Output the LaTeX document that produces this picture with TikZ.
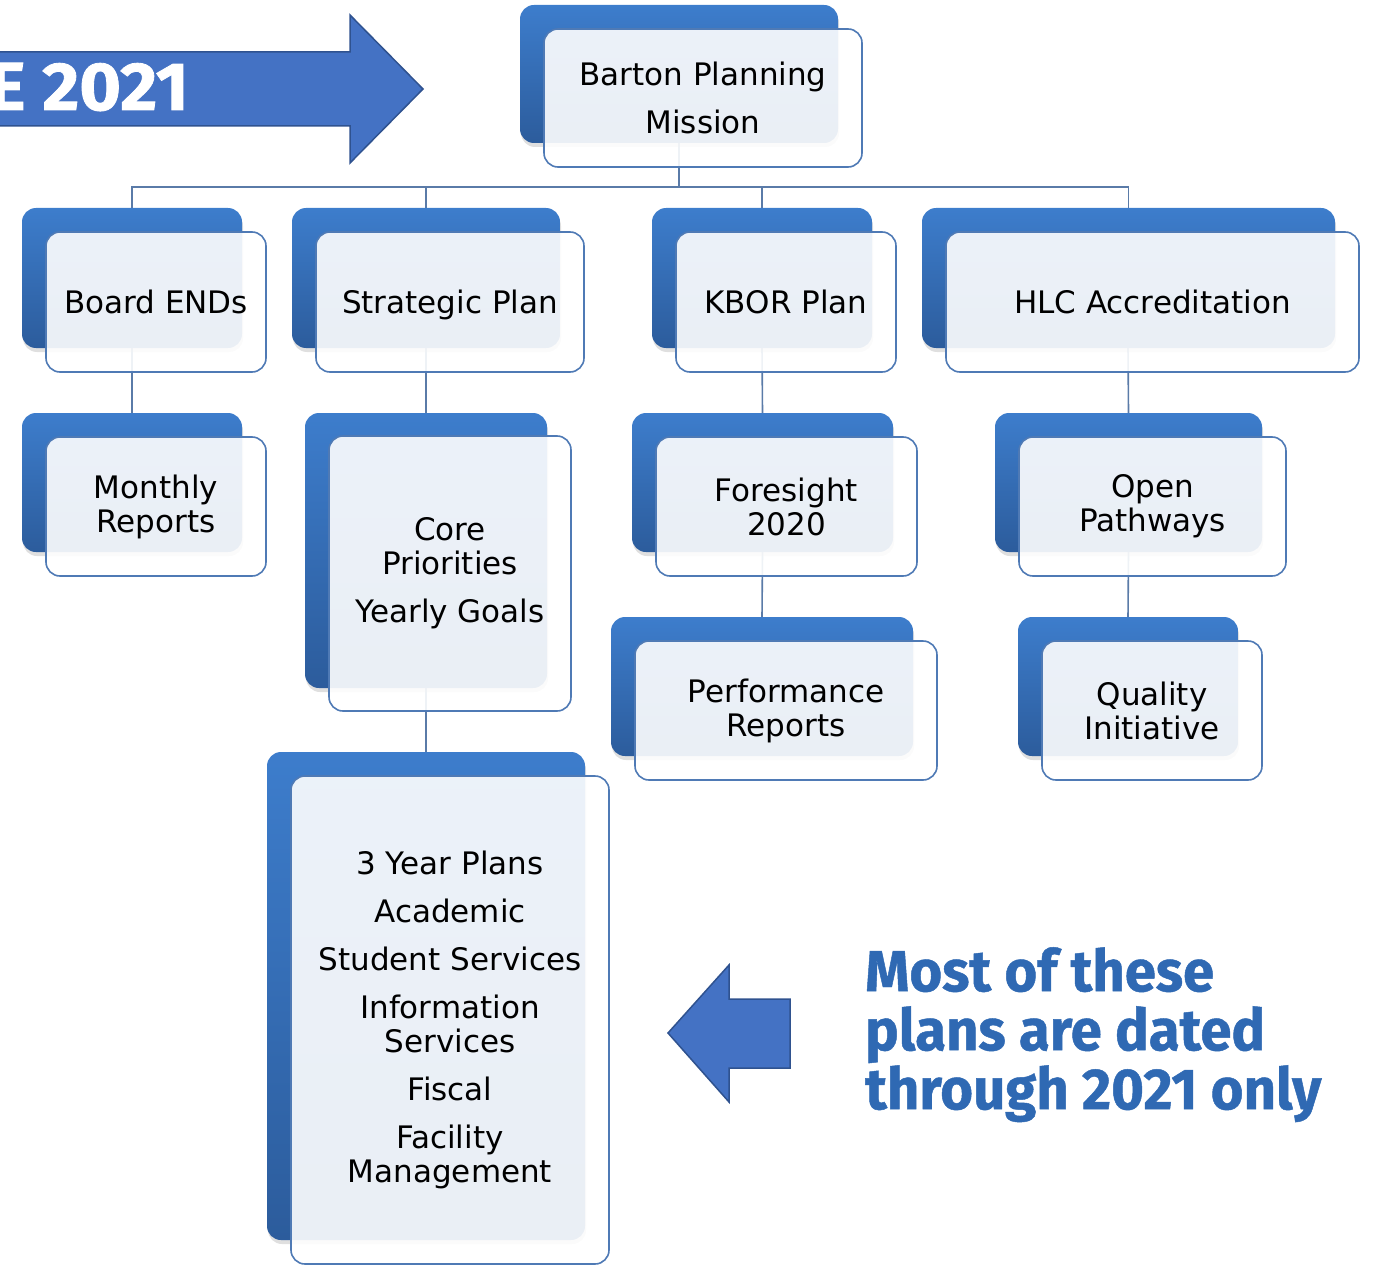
\documentclass[tikz,border=0pt]{standalone}
\usepackage{fontspec}
\setmainfont{DejaVu Sans}
\newfontfamily\notefont{Fira Sans}[FakeStretch=0.97, BoldFeatures={FakeBold=0.8}]
\newfontfamily\yearfont{Fira Sans}[FakeStretch=1.05, BoldFeatures={FakeBold=1.2}]
\usetikzlibrary{shadows,backgrounds}
\definecolor{backtop}{HTML}{3D7DCC}
\definecolor{backbot}{HTML}{2C5C9C}
\definecolor{frontline}{HTML}{4F7AB5}
\definecolor{conncol}{HTML}{5A7BA8}
\definecolor{arrowfill}{HTML}{4472C4}
\definecolor{arrowline}{HTML}{2F528F}
\definecolor{notecol}{HTML}{2F69B3}
\tikzset{
 backbox/.style={rounded corners=14pt, top color=backtop, bottom color=backbot, draw=none,
   drop shadow={opacity=0.25, shadow xshift=1pt, shadow yshift=-4pt}, inner sep=0pt},
 frontbox/.style={rounded corners=14pt, draw=frontline, line width=1.6pt, fill=white,
   fill opacity=0.9, text opacity=1, align=center, font=\fontsize{31}{34}\selectfont, inner sep=0pt},
 conn/.style={draw=conncol, line width=1.6pt},
 bigarrow/.style={fill=arrowfill, draw=arrowline, line width=1.5pt},
}
\newcommand\pgap{\\[14pt]}
\begin{document}
\begin{tikzpicture}[x=1pt,y=-1pt]
\useasboundingbox (0,0) rectangle (1375,1265);
% top arrow
\draw[bigarrow] (-5,52) -- (350,52) -- (350,15) -- (423,89) -- (350,163) -- (350,126) -- (-5,126) -- cycle;
\node[anchor=base east, text=white, font=\yearfont\bfseries\fontsize{68}{68}\selectfont, inner sep=0pt] (yr) at (189,110) {E 2021};
% back boxes
\node[backbox, minimum width=318pt, minimum height=138pt] (top) at (679,74) {};
\node[backbox, minimum width=220pt, minimum height=140pt] (be) at (132,278) {};
\node[backbox, minimum width=268pt, minimum height=140pt] (sp) at (426,278) {};
\node[backbox, minimum width=220pt, minimum height=140pt] (kb) at (762,278) {};
\node[backbox, minimum width=413pt, minimum height=140pt] (hlc) at (1128.5,278) {};
\node[backbox, minimum width=220pt, minimum height=139pt] (mr) at (132,482.5) {};
\node[backbox, minimum width=242pt, minimum height=275pt] (cp) at (426,550.5) {};
\node[backbox, minimum width=261pt, minimum height=139pt] (fs) at (762.5,482.5) {};
\node[backbox, minimum width=267pt, minimum height=139pt] (op) at (1128.5,482.5) {};
\node[backbox, minimum width=302pt, minimum height=139pt] (pr) at (762,686.5) {};
\node[backbox, minimum width=220pt, minimum height=139pt] (qi) at (1128,686.5) {};
\node[backbox, minimum width=318pt, minimum height=488pt] (ty) at (426,996) {};
% front boxes
\node[frontbox, minimum width=318pt, minimum height=138pt] (topf) at ([shift={(24,24)}]top.center) {Barton Planning\pgap Mission};
\node[frontbox, minimum width=220pt, minimum height=140pt] (bef) at ([shift={(24,24)}]be.center) {Board ENDs};
\node[frontbox, minimum width=268pt, minimum height=140pt] (spf) at ([shift={(24,24)}]sp.center) {\raisebox{0pt}[\height][0pt]{Strategic Plan}};
\node[frontbox, minimum width=220pt, minimum height=140pt] (kbf) at ([shift={(24,24)}]kb.center) {KBOR Plan};
\node[frontbox, minimum width=413pt, minimum height=140pt] (hlcf) at ([shift={(24,24)}]hlc.center) {HLC Accreditation};
\node[frontbox, minimum width=220pt, minimum height=139pt] (mrf) at ([shift={(24,24)}]mr.center) {Monthly\\Reports};
\node[frontbox, minimum width=242pt, minimum height=275pt] (cpf) at ([shift={(24,23)}]cp.center) {Core\\Priorities\pgap Yearly Goals};
\node[frontbox, minimum width=261pt, minimum height=139pt] (fsf) at ([shift={(24,24)}]fs.center) {Foresight\\2020};
\node[frontbox, minimum width=267pt, minimum height=139pt] (opf) at ([shift={(24,24)}]op.center) {Open\\Pathways};
\node[frontbox, minimum width=302pt, minimum height=139pt] (prf) at ([shift={(24,24)}]pr.center) {Performance\\Reports};
\node[frontbox, minimum width=220pt, minimum height=139pt] (qif) at ([shift={(24,24)}]qi.center) {Quality\\Initiative};
\node[frontbox, minimum width=318pt, minimum height=488pt] (tyf) at ([shift={(24,24)}]ty.center) {3 Year Plans\pgap Academic\pgap Student Services\pgap Information\\Services\pgap Fiscal\pgap Facility\\Management};
% connectors
\coordinate (bus) at (679,187);
\begin{scope}[on background layer]
\draw[conn] (top.south) -- (bus);
\draw[conn] (be.north) |- (bus) -| (hlc.north);
\draw[conn] (sp.north) |- (bus);
\draw[conn] (kb.north) |- (bus);
\draw[conn] (be.south) -- (mr.north);
\draw[conn] (sp.south) -- (cp.north);
\draw[conn] (cp.south) -- (ty.north);
\draw[conn] (kb.south) -- (fs.north);
\draw[conn] (fs.south) -- (pr.north);
\draw[conn] ([xshift=-0.5pt]hlc.south) -- (op.north);
\draw[conn] (op.south) -- (qi.north);
\end{scope}
% left arrow
\draw[bigarrow] (668,1033) -- (729,965) -- (729,999) -- (790,999) -- (790,1068) -- (729,1068) -- (729,1102) -- cycle;
\node[anchor=north west, align=left, text=notecol, font=\notefont\bfseries\fontsize{58}{59}\selectfont, inner sep=0pt] (note) at (865,947) {Most of these\\plans are dated\\through 2021 only};
\end{tikzpicture}
\end{document}
